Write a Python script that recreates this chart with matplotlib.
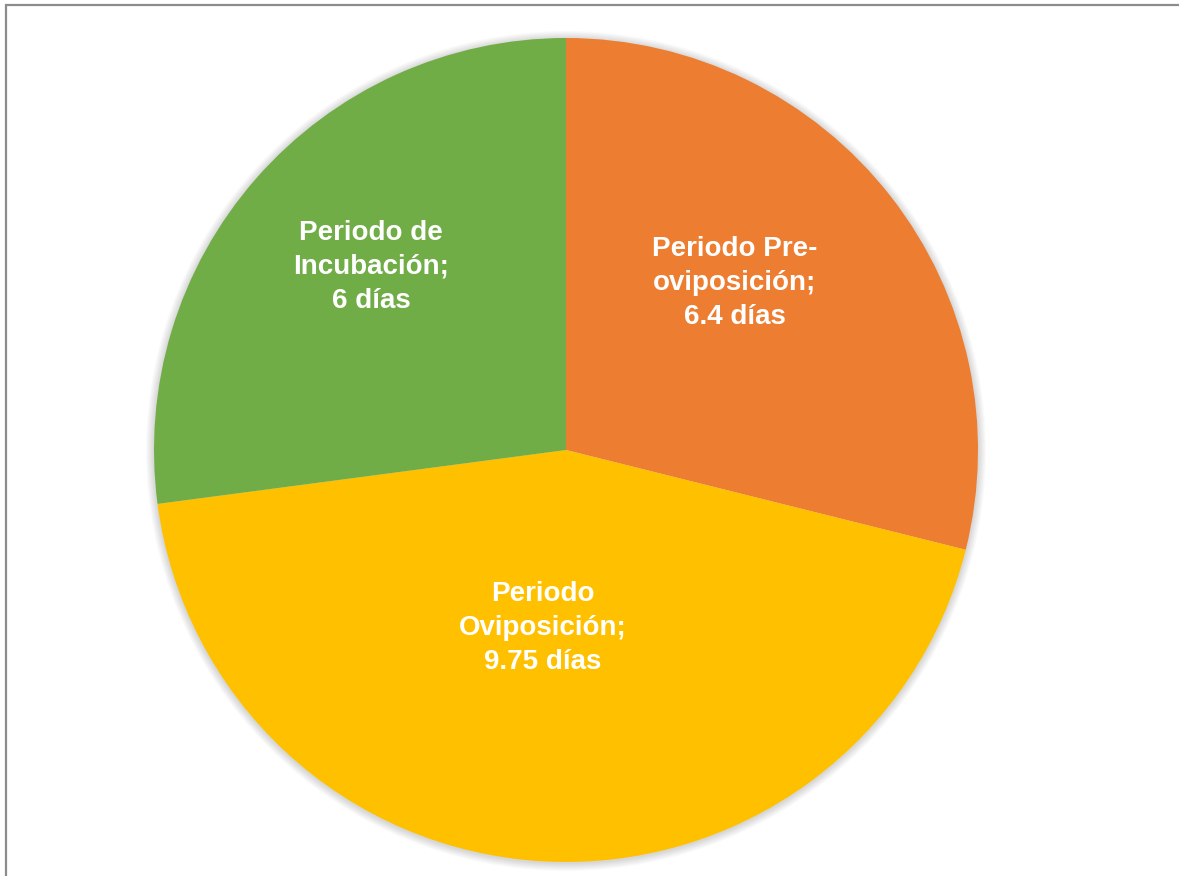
import matplotlib.pyplot as plt
from matplotlib.patches import Circle, Rectangle

plt.rcParams['font.family'] = ['Liberation Sans', 'DejaVu Sans']

# data
labels = ["Periodo Pre-\noviposición;\n6.4 días",
          "Periodo\nOviposición;\n9.75 días",
          "Periodo de\nIncubación;\n6 días"]
values = [6.4, 9.75, 6]
colors = ["#ED7D31", "#FFC000", "#70AD47"]

# label positions in pixels (x, y from top)
label_pos = [(735, 283), (543, 628), (371, 267)]

W, H = 1179, 876
cx, cy, r = 566, H - 450, 412

fig = plt.figure(figsize=(W / 100, H / 100), dpi=100)
ax = fig.add_axes([0, 0, 1, 1])

# soft shadow around the pie
for k in range(1, 9):
    ax.add_patch(Circle((cx, cy - 1), r + k, color="black", alpha=0.02,
                        lw=0, zorder=0))

ax.pie(values, colors=colors, startangle=90, counterclock=False,
       center=(cx, cy), radius=r, frame=True,
       wedgeprops=dict(linewidth=0, zorder=1))
ax.set_xlim(0, W)
ax.set_ylim(0, H)
ax.set_aspect("equal")
ax.axis("off")

for txt, (px, py) in zip(labels, label_pos):
    ax.text(px, H - py, txt, ha="center", va="center", color="white",
            fontsize=20, fontweight="bold", linespacing=1.42, zorder=3)

# chart border
ax.add_patch(Rectangle((5.5, -20), W + 20, H - 4.5 + 20, fill=False,
                       edgecolor="#8c8c8c", lw=1.6, zorder=4))

fig.savefig("out.png", dpi=100)
